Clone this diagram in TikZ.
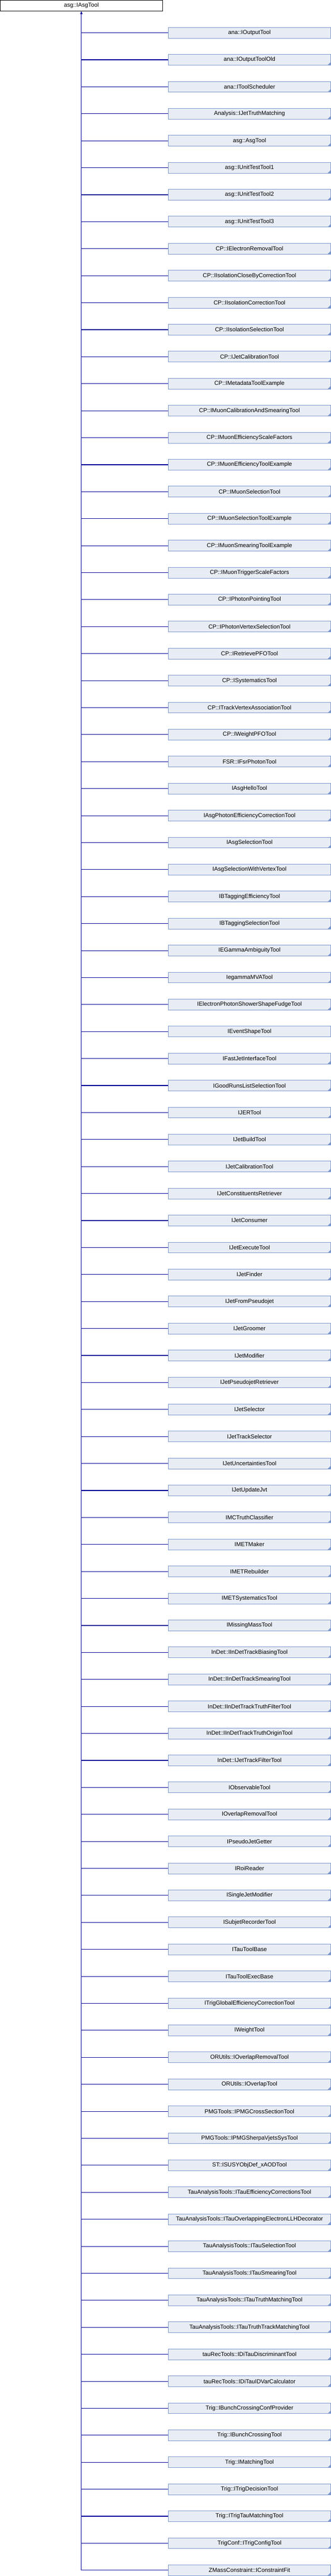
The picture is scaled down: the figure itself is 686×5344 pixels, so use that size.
\documentclass[tikz,border=0pt]{standalone}
\usepackage{fontspec}
\setmainfont{Liberation Sans}
\usetikzlibrary{arrows.meta}
\definecolor{boxfill}{RGB}{232,236,244}
\definecolor{boxline}{RGB}{122,150,204}
\definecolor{connline}{RGB}{0,0,150}
\tikzset{
  basebox/.style={rectangle, inner sep=0pt, minimum height=22.3pt, line width=1pt,
    font=\fontsize{12}{14}\selectfont, text=black},
  rootbox/.style={basebox, draw=black, fill=white, minimum width=336.3pt},
  childbox/.style={basebox, draw=boxline, fill=boxfill, minimum width=336pt,
    path picture={\ifnum\fl=1 \fill[boxline] (path picture bounding box.south east) -- ++(-6pt,0pt) -- ++(6pt,6pt) -- cycle;\fi}},
  conn/.style={draw=connline, line width=1.2pt},
}
\begin{document}
\begin{tikzpicture}[x=1pt,y=-1pt]
\useasboundingbox (0,0) rectangle (686,5344);
\node[rootbox] (root) at (168.65,11.65) {asg::IAsgTool};
\foreach \nm/\fl [count=\i] in {
ana::IOutputTool/0,
ana::IOutputToolOld/1,
ana::IToolScheduler/1,
Analysis::IJetTruthMatching/1,
asg::AsgTool/1,
asg::IUnitTestTool1/1,
asg::IUnitTestTool2/1,
asg::IUnitTestTool3/1,
CP::IElectronRemovalTool/1,
CP::IIsolationCloseByCorrectionTool/1,
CP::IIsolationCorrectionTool/1,
CP::IIsolationSelectionTool/1,
CP::IJetCalibrationTool/1,
CP::IMetadataToolExample/1,
CP::IMuonCalibrationAndSmearingTool/1,
CP::IMuonEfficiencyScaleFactors/1,
CP::IMuonEfficiencyToolExample/1,
CP::IMuonSelectionTool/1,
CP::IMuonSelectionToolExample/1,
CP::IMuonSmearingToolExample/1,
CP::IMuonTriggerScaleFactors/1,
CP::IPhotonPointingTool/1,
CP::IPhotonVertexSelectionTool/1,
CP::IRetrievePFOTool/1,
CP::ISystematicsTool/1,
CP::ITrackVertexAssociationTool/1,
CP::IWeightPFOTool/1,
FSR::IFsrPhotonTool/1,
IAsgHelloTool/1,
IAsgPhotonEfficiencyCorrectionTool/1,
IAsgSelectionTool/1,
IAsgSelectionWithVertexTool/0,
IBTaggingEfficiencyTool/1,
IBTaggingSelectionTool/1,
IEGammaAmbiguityTool/1,
IegammaMVATool/1,
IElectronPhotonShowerShapeFudgeTool/1,
IEventShapeTool/0,
IFastJetInterfaceTool/1,
IGoodRunsListSelectionTool/1,
IJERTool/1,
IJetBuildTool/1,
IJetCalibrationTool/1,
IJetConstituentsRetriever/1,
IJetConsumer/1,
IJetExecuteTool/1,
IJetFinder/1,
IJetFromPseudojet/1,
IJetGroomer/1,
IJetModifier/1,
IJetPseudojetRetriever/1,
IJetSelector/1,
IJetTrackSelector/0,
IJetUncertaintiesTool/1,
IJetUpdateJvt/1,
IMCTruthClassifier/1,
IMETMaker/1,
IMETRebuilder/1,
IMETSystematicsTool/1,
IMissingMassTool/1,
InDet::IInDetTrackBiasingTool/1,
InDet::IInDetTrackSmearingTool/1,
InDet::IInDetTrackTruthFilterTool/1,
InDet::IInDetTrackTruthOriginTool/1,
InDet::IJetTrackFilterTool/1,
IObservableTool/1,
IOverlapRemovalTool/1,
IPseudoJetGetter/1,
IRoiReader/1,
ISingleJetModifier/1,
ISubjetRecorderTool/1,
ITauToolBase/1,
ITauToolExecBase/1,
ITrigGlobalEfficiencyCorrectionTool/1,
IWeightTool/1,
ORUtils::IOverlapRemovalTool/1,
ORUtils::IOverlapTool/1,
PMGTools::IPMGCrossSectionTool/1,
PMGTools::IPMGSherpaVjetsSysTool/1,
{ST::ISUSYObjDef\_xAODTool}/1,
TauAnalysisTools::ITauEfficiencyCorrectionsTool/1,
TauAnalysisTools::ITauOverlappingElectronLLHDecorator/1,
TauAnalysisTools::ITauSelectionTool/1,
TauAnalysisTools::ITauSmearingTool/1,
TauAnalysisTools::ITauTruthMatchingTool/1,
TauAnalysisTools::ITauTruthTrackMatchingTool/1,
tauRecTools::IDiTauDiscriminantTool/1,
tauRecTools::IDiTauIDVarCalculator/1,
Trig::IBunchCrossingConfProvider/1,
Trig::IBunchCrossingTool/1,
Trig::IMatchingTool/1,
Trig::ITrigDecisionTool/1,
Trig::ITrigTauMatchingTool/1,
TrigConf::ITrigConfigTool/1,
ZMassConstraint::IConstraintFit/1}
{
  \node[childbox] (c\i) at (517.2,{68+56*(\i-1)}) {\nm};
  \draw[conn] (root.south |- c\i.west) -- (c\i.west);
}
\draw[conn, -{Triangle[width=5pt,length=6pt]}] (root.south |- c95.west) -- (root.south);
\end{tikzpicture}
\end{document}
